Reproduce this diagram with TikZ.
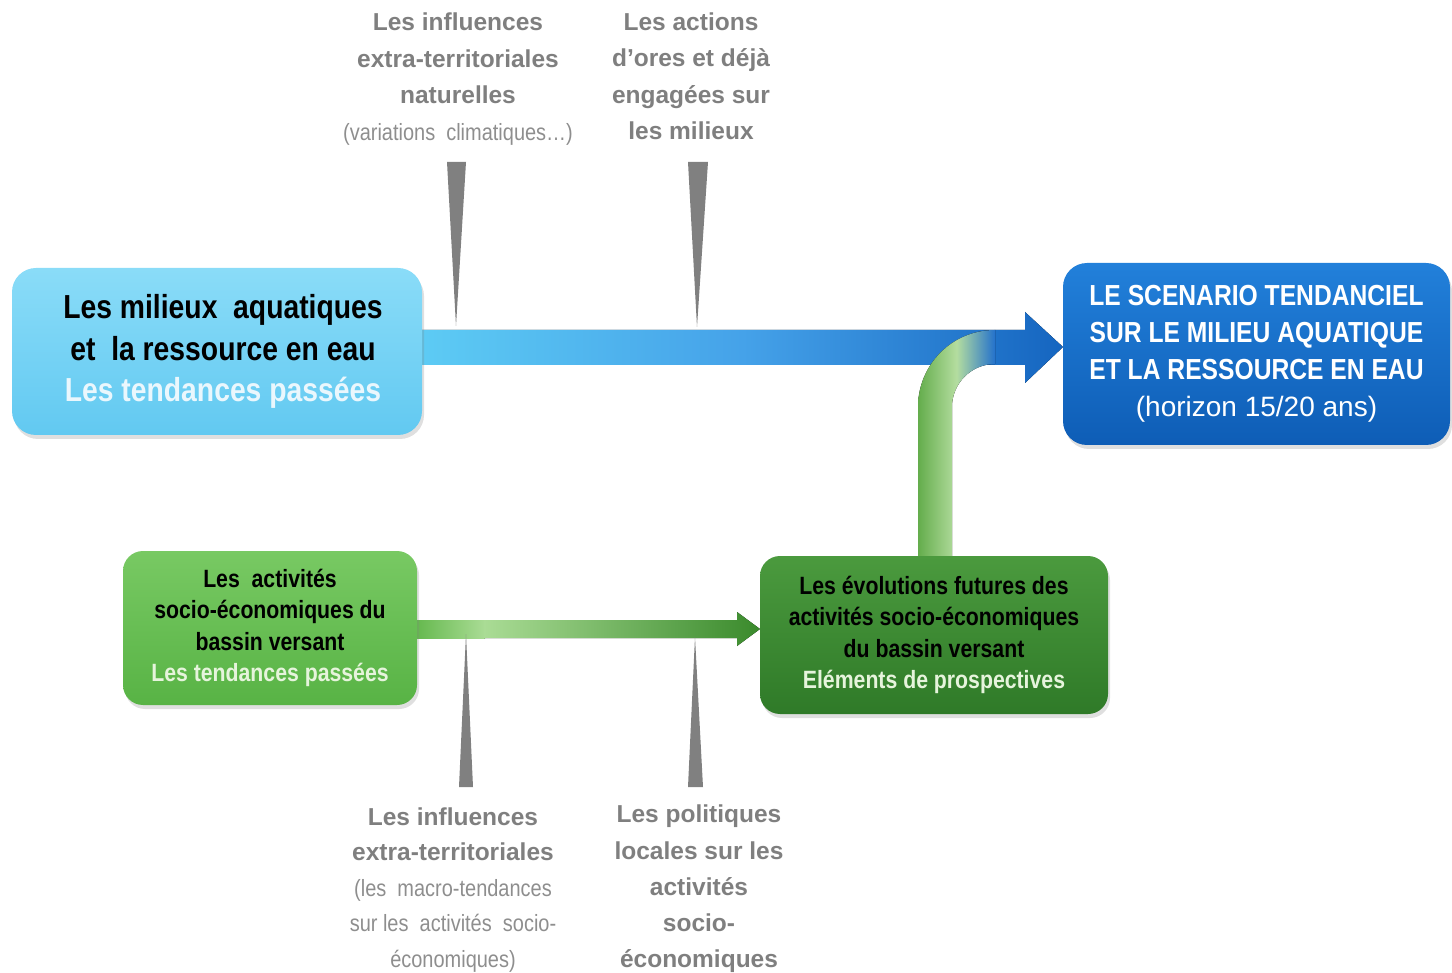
\documentclass[tikz,border=0pt]{standalone}
\usepackage{fontspec}
\setmainfont{Liberation Sans}
\newfontfamily\nfont{Liberation Sans}[FakeStretch=0.85]
\usetikzlibrary{shadows,calc}
\definecolor{lbtop}{HTML}{8ADCF8}
\definecolor{lbbot}{HTML}{62C9F1}
\definecolor{dbtop}{HTML}{2280DA}
\definecolor{dbbot}{HTML}{0E5DB6}
\definecolor{lgtop}{HTML}{78C963}
\definecolor{lgbot}{HTML}{58B345}
\definecolor{dgtop}{HTML}{4B9A3E}
\definecolor{dgbot}{HTML}{2F7A28}
\definecolor{lblgray}{HTML}{7F7F7F}
\definecolor{lightgray2}{HTML}{8E8E8E}
\definecolor{wedgegray}{HTML}{808080}
\definecolor{paleblue}{HTML}{EAF7FD}
\definecolor{palegreen}{HTML}{E6F4DC}
\definecolor{arrA}{HTML}{5DCBF4}
\definecolor{arrB}{HTML}{45A2E9}
\definecolor{arrC}{HTML}{1565C0}
\definecolor{grA}{HTML}{66B94F}
\definecolor{grB}{HTML}{AADC95}
\definecolor{grC}{HTML}{3A8A2C}
\definecolor{cvA}{HTML}{64AD4C}
\definecolor{cvB}{HTML}{B4DD9F}
\definecolor{cvC}{HTML}{2472CC}
\tikzset{
  box/.style={rounded corners=22pt, align=center, inner sep=0pt,
    drop shadow={opacity=0.25, shadow xshift=2pt, shadow yshift=-4pt}},
  lbl/.style={text=lblgray, align=center, inner sep=0pt},
  wedge/.style={fill=wedgegray},
}
\newcommand{\lighttxt}[1]{{\nfont\mdseries\fontsize{23.5}{36}\selectfont\color{lightgray2}#1}}
\begin{document}
\begin{tikzpicture}[x=1pt,y=-1pt]
\useasboundingbox (0,0) rectangle (1452,973);

% ---------- coordinates of box centres
\coordinate (c1) at (217,351.5);
\coordinate (c2) at (1256.5,354);
\coordinate (c3) at (270,628);
\coordinate (c4) at (934,635);

% ---------- blue main arrow
\fill[left color=arrA, right color=arrC, middle color=arrB]
  (422,330) -- (1025,330) -- (1025,312) -- (1063,347) -- (1025,383) -- (1025,365) -- (422,365) -- cycle;

% ---------- green curved arrow joining the blue arrow
\fill[left color=cvA, right color=cvC, middle color=cvB]
  (918,556) -- (918,407) .. controls (918,364.5) and (952.5,330) .. (995,330)
  -- (995,364) .. controls (971.3,364) and (952,383.3) .. (952,407) -- (952,556) -- cycle;

% ---------- lower green arrow
\fill[left color=grA, right color=grB] (417,620) rectangle (485,638);
\fill[left color=grB, right color=grC]
  (484,620) -- (737,620) -- (737,612) -- (760,629) -- (737,646) -- (737,638) -- (484,638) -- cycle;

% ---------- boxes
\node[box, minimum width=410pt, minimum height=167pt, rounded corners=24pt,
   top color=lbtop, bottom color=lbbot,
   font=\nfont\bfseries\fontsize{33.3}{41.5}\selectfont] (b1) at (c1)
   {\hspace*{12pt}Les milieux\ \ aquatiques\\\hspace*{12pt}et\ \ la ressource en eau\\\hspace*{12pt}\textcolor{paleblue}{Les tendances passées}};

\node[box, minimum width=387pt, minimum height=182pt, rounded corners=24pt,
   top color=dbtop, bottom color=dbbot, text=white,
   font=\nfont\bfseries\fontsize{29}{37}\selectfont] (b2) at (c2)
   {LE SCENARIO TENDANCIEL\\SUR LE MILIEU AQUATIQUE\\ET LA RESSOURCE EN EAU\\{\rmfamily\mdseries\fontsize{28}{37}\selectfont(horizon 15/20 ans)}};

\node[box, minimum width=294pt, minimum height=154pt, rounded corners=20pt,
   top color=lgtop, bottom color=lgbot,
   font=\nfont\bfseries\fontsize{25}{31.3}\selectfont] (b3) at (c3)
   {Les\ \ activités\\socio-économiques du\\bassin versant\\\textcolor{palegreen}{Les tendances passées}};

\node[box, minimum width=348pt, minimum height=158pt, rounded corners=20pt,
   top color=dgtop, bottom color=dgbot,
   font=\nfont\bfseries\fontsize{25}{31.3}\selectfont] (b4) at (c4)
   {Les évolutions futures des\\activités socio-économiques\\du bassin versant\\\textcolor{palegreen}{Eléments de prospectives}};

% ---------- labels
\node[lbl, font=\bfseries\fontsize{24.5}{36.5}\selectfont] (t1) at (458,79)
  {Les influences\\extra-territoriales\\naturelles\\\lighttxt{(variations\ \ climatiques…)}};
\node[lbl, font=\bfseries\fontsize{24.5}{36.5}\selectfont] (t2) at (691,76)
  {Les actions\\d’ores et déjà\\engagées sur\\les milieux};
\node[lbl, font=\bfseries\fontsize{24.5}{35.5}\selectfont] (t3) at (453,890)
  {Les influences\\extra-territoriales\\\lighttxt{(les\ \ macro-tendances}\\\lighttxt{sur les\ \ activités\ \ socio-}\\\lighttxt{économiques)}};
\node[lbl, font=\bfseries\fontsize{24.5}{36.2}\selectfont] (t4) at (699,889)
  {Les politiques\\locales sur les\\activités\\socio-\\économiques};

% ---------- gray wedges
\fill[wedge] (447,162) -- (466,162) -- (456,326) -- cycle;
\fill[wedge] (688,162) -- (708,162) -- (697,327) -- cycle;
\fill[wedge] (459,787) -- (473,787) -- (466,634) -- cycle;
\fill[wedge] (688,787) -- (703,787) -- (695,637) -- cycle;
\end{tikzpicture}
\end{document}
